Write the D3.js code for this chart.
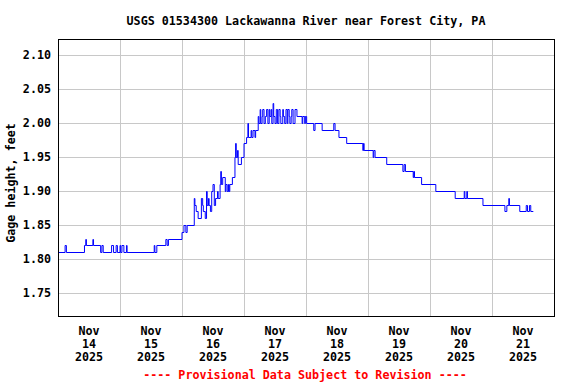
<!DOCTYPE html>
<html>
<head>
<meta charset="utf-8">
<script src="https://cdn.jsdelivr.net/npm/d3@7"></script>
<style>
    body { margin: 0; background: #fff; }
    svg text { font-family: "DejaVu Sans Mono", monospace; font-weight: bold; }
</style>
</head>
<body>
<script>
var title = "USGS 01534300 Lackawanna River near Forest City, PA";
var yLabel = "Gage height, feet";
var footnote = "---- Provisional Data Subject to Revision ----";

// hours after Nov 14 2025 00:00, gage height (ft) - change points of the 15-min record
var readings = [
    [0, 1.81], [2.75, 1.82], [3.25, 1.81], [10.25, 1.82], [10.75, 1.83], [11, 1.82],
    [13.5, 1.83], [13.75, 1.82], [16.5, 1.81], [17, 1.82], [17.5, 1.81], [20.75, 1.82],
    [21.5, 1.81], [22.5, 1.82], [23, 1.81], [24, 1.82], [24.25, 1.81], [24.75, 1.82],
    [25.5, 1.81], [26.5, 1.82], [26.75, 1.81], [37.25, 1.82], [37.5, 1.81], [38.25, 1.82],
    [41.75, 1.83], [42.25, 1.82], [42.75, 1.83], [48, 1.84], [48.75, 1.85], [49.5, 1.84],
    [50, 1.85], [52.75, 1.89], [53, 1.88], [53.5, 1.87], [54.25, 1.86], [55.5, 1.89],
    [56, 1.88], [56.25, 1.87], [57, 1.86], [57.5, 1.9], [57.75, 1.88], [58.25, 1.89],
    [58.5, 1.88], [59, 1.87], [59.5, 1.9], [60, 1.91], [60.5, 1.88], [61, 1.89],
    [61.75, 1.9], [62, 1.89], [62.75, 1.91], [63, 1.93], [63.25, 1.91], [63.75, 1.92],
    [64.75, 1.9], [65, 1.91], [65.5, 1.9], [66, 1.91], [66.25, 1.9], [66.5, 1.91],
    [67.5, 1.92], [68.5, 1.95], [68.75, 1.97], [69, 1.95], [69.5, 1.96], [69.75, 1.94],
    [71, 1.95], [72, 1.97], [73, 1.98], [73.5, 2.0], [73.75, 1.98], [74.75, 1.99],
    [75, 1.98], [75.5, 1.99], [76.25, 1.98], [76.5, 1.99], [77.5, 2.01], [77.75, 2.0],
    [78.25, 2.02], [78.5, 2.0], [79, 2.01], [79.25, 2.02], [79.75, 2.0], [80.25, 2.01],
    [80.75, 2.02], [81.25, 2.0], [81.75, 2.02], [82, 2.01], [82.5, 2.02], [82.75, 2.0],
    [83.25, 2.03], [83.5, 2.01], [84, 2.0], [84.5, 2.02], [85, 2.0], [85.5, 2.02],
    [86, 2.01], [86.25, 2.0], [87, 2.02], [87.25, 2.01], [87.75, 2.0], [88.25, 2.02],
    [88.75, 2.0], [89, 2.02], [89.5, 2.01], [89.75, 2.0], [90.25, 2.01], [90.5, 2.02],
    [91, 2.0], [91.75, 2.02], [92.5, 2.01], [94.5, 2.0], [94.75, 2.01], [95.5, 2.0],
    [95.75, 2.01], [96.25, 2.0], [99, 1.99], [99.5, 2.0], [102.25, 1.99], [106.75, 2.0],
    [107.25, 1.99], [108.75, 1.98], [111.75, 1.97], [118, 1.96], [118.25, 1.97], [118.5, 1.96],
    [122, 1.95], [122.25, 1.96], [122.75, 1.95], [127.25, 1.94], [133.5, 1.93], [134, 1.94],
    [134.5, 1.93], [137.5, 1.92], [137.75, 1.93], [138, 1.92], [140.75, 1.91], [146.25, 1.9],
    [153.75, 1.89], [157.25, 1.9], [157.5, 1.89], [158.25, 1.9], [158.5, 1.89], [164.5, 1.88],
    [173, 1.87], [173.75, 1.88], [174.5, 1.89], [174.75, 1.88], [178.75, 1.87], [181.25, 1.88],
    [181.75, 1.87], [182.5, 1.88], [183, 1.87], [184, 1.87]
];

var yTicks = [1.75, 1.80, 1.85, 1.90, 1.95, 2.00, 2.05, 2.10];
var dayLabels = ["14", "15", "16", "17", "18", "19", "20", "21"];

var width = 576, height = 384;
var plotLeft = 58, plotRight = 554, plotTop = 39, plotBottom = 316;
var start = Date.UTC(2025, 10, 14);
var end = Date.UTC(2025, 10, 22);
var hour = 3600 * 1000;

var svg = d3.select("body").append("svg")
    .attr("width", width)
    .attr("height", height);

var x = d3.scaleUtc().domain([start, end]).range([plotLeft, plotRight]);
var y = d3.scaleLinear().domain([1.7162, 2.1235]).range([plotBottom, plotTop]);

// grid
var days = d3.utcDay.range(start + hour, end);
svg.append("g")
    .selectAll("line")
    .data(days)
    .join("line")
    .attr("x1", (d) => Math.round(x(d)) + 0.5)
    .attr("x2", (d) => Math.round(x(d)) + 0.5)
    .attr("y1", plotTop)
    .attr("y2", plotBottom)
    .attr("stroke", "#c8c8c8");

svg.append("g")
    .selectAll("line")
    .data(yTicks)
    .join("line")
    .attr("x1", plotLeft)
    .attr("x2", plotRight)
    .attr("y1", (d) => Math.round(y(d)) + 0.5)
    .attr("y2", (d) => Math.round(y(d)) + 0.5)
    .attr("stroke", "#c8c8c8");

// data line
var line = d3.line()
    .x((d) => x(start + d[0] * hour))
    .y((d) => Math.round(y(d[1])) + 0.5)
    .curve(d3.curveStepAfter);

svg.append("path")
    .datum(readings)
    .attr("d", line)
    .attr("fill", "none")
    .attr("stroke", "#0000ff")
    .attr("stroke-width", 1);

// frame
svg.append("rect")
    .attr("x", plotLeft + 0.5)
    .attr("y", plotTop + 0.5)
    .attr("width", plotRight - plotLeft)
    .attr("height", plotBottom - plotTop)
    .attr("fill", "none")
    .attr("stroke", "#000");

// y tick labels
svg.append("g")
    .selectAll("text")
    .data(yTicks)
    .join("text")
    .attr("x", 51)
    .attr("y", (d) => y(d) + 4)
    .attr("text-anchor", "end")
    .attr("font-size", "11.7px")
    .text((d) => d.toFixed(2));

// x tick labels at noon of each day
var xl = svg.append("g")
    .selectAll("text")
    .data(dayLabels)
    .join("text")
    .attr("text-anchor", "middle")
    .attr("font-size", "11.7px");
xl.append("tspan")
    .attr("x", (d, i) => x(start + (i * 24 + 12) * hour))
    .attr("y", 335)
    .text("Nov");
xl.append("tspan")
    .attr("x", (d, i) => x(start + (i * 24 + 12) * hour))
    .attr("y", 348)
    .text((d) => d);
xl.append("tspan")
    .attr("x", (d, i) => x(start + (i * 24 + 12) * hour))
    .attr("y", 361)
    .text("2025");

svg.append("text")
    .attr("x", (plotLeft + plotRight) / 2)
    .attr("y", 25)
    .attr("text-anchor", "middle")
    .attr("font-size", "11.7px")
    .text(title);

svg.append("text")
    .attr("transform", "translate(15,183) rotate(-90)")
    .attr("text-anchor", "middle")
    .attr("font-size", "11.7px")
    .text(yLabel);

svg.append("text")
    .attr("x", 305)
    .attr("y", 379)
    .attr("text-anchor", "middle")
    .attr("font-size", "11.7px")
    .attr("fill", "#ff0000")
    .text(footnote);
</script>
</body>
</html>
